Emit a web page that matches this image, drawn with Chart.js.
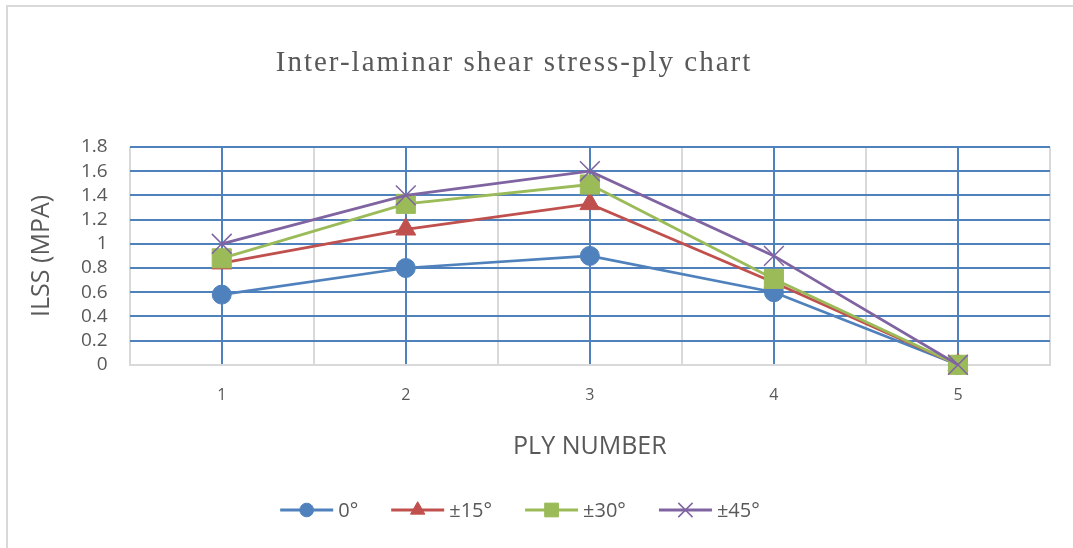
<!DOCTYPE html>
<html lang="en">
<head>
  <meta charset="UTF-8">
  <title>Inter-laminar shear stress-ply chart</title>
  <script src="https://cdn.jsdelivr.net/npm/chart.js"></script>
  <style>
    body { margin: 0; background: #fff; overflow: hidden; }
    .wrap { position: relative; width: 1073px; height: 548px; }
    .frame { position: absolute; left: 6px; top: 5px; width: 1200px; height: 700px;
             border-left: 2px solid #d9d9d9; border-top: 2px solid #d9d9d9; }
    canvas { position: absolute; left: 0; top: 0; }
  </style>
</head>
<body>
  <div class="wrap">
    <div class="frame"></div>
    <canvas id="grafica"></canvas>
  </div>

  <script>
    const plies = ["1", "2", "3", "4", "5"];
    const deg0  = [0.58, 0.80, 0.90, 0.60, 0];
    const deg15 = [0.84, 1.12, 1.33, 0.68, 0];
    const deg30 = [0.88, 1.33, 1.49, 0.71, 0];
    const deg45 = [1.00, 1.40, 1.60, 0.90, 0];
    const yTicks = [0, 0.2, 0.4, 0.6, 0.8, 1, 1.2, 1.4, 1.6, 1.8];

    const textGray = "#595959";
    const gridBlue = "#4f81bd";
    const lightGray = "#d9d9d9";
    const sans = "'Open Sans', 'Liberation Sans', sans-serif";

    // order: como en Excel, la ultima serie queda encima
    function serie(label, data, color, style, radius, bw, order) {
      return {
        label: label,
        data: data,
        order: order,
        clip: false,
        borderColor: color,
        backgroundColor: color,
        borderWidth: 2.75,
        pointStyle: style,
        pointRadius: radius,
        pointHoverRadius: radius,
        pointBorderWidth: bw,
        pointBackgroundColor: color,
        pointBorderColor: color,
        tension: 0
      };
    }

    const datasets = [
      serie("0°", deg0, "#4f81bd", "circle", 9.5, 1, 3),
      serie("±15°", deg15, "#c0504d", "triangle", 11.5, 1, 2),
      serie("±30°", deg30, "#9bbb59", "rect", 13.5, 1, 1),
      serie("±45°", deg45, "#8064a2", "crossRot", 14, 1.5, 0)
    ];

    // titulo con espaciado entre letras
    const tituloPlugin = {
      id: "titulo",
      afterDraw(chart) {
        const ctx = chart.ctx;
        ctx.save();
        ctx.font = "29px 'Liberation Serif', serif";
        ctx.letterSpacing = "2px";
        ctx.fillStyle = textGray;
        ctx.textAlign = "center";
        ctx.textBaseline = "middle";
        ctx.fillText("Inter-laminar shear stress-ply chart", 514, 63);
        ctx.restore();
      }
    };

    // leyenda: linea con marcador, como en Excel
    const leyendaPlugin = {
      id: "leyenda",
      afterDraw(chart) {
        const ctx = chart.ctx;
        const lineW = 53, gapText = 5, gapItem = 33, cy = 510;
        ctx.save();
        ctx.font = "20px " + sans;
        const items = chart.data.datasets.map(d => ({ d: d, w: ctx.measureText(d.label).width }));
        let total = 0;
        items.forEach((it, i) => { total += lineW + gapText + it.w + (i < items.length - 1 ? gapItem : 0); });
        let x = 520 - total / 2;
        items.forEach(it => {
          const d = it.d;
          ctx.strokeStyle = d.borderColor;
          ctx.lineWidth = 3;
          ctx.beginPath();
          ctx.moveTo(x, cy);
          ctx.lineTo(x + lineW, cy);
          ctx.stroke();
          ctx.fillStyle = d.borderColor;
          ctx.lineWidth = d.pointStyle === "crossRot" ? 1.5 : 1;
          Chart.helpers.drawPoint(ctx, {
            pointStyle: d.pointStyle,
            radius: d.pointRadius * 0.72,
            borderWidth: ctx.lineWidth,
            rotation: 0
          }, x + lineW / 2, cy);
          ctx.fillStyle = textGray;
          ctx.textAlign = "left";
          ctx.textBaseline = "middle";
          ctx.fillText(d.label, x + lineW + gapText, cy + 1);
          x += lineW + gapText + it.w + gapItem;
        });
        ctx.restore();
      }
    };

    new Chart(document.getElementById("grafica"), {
      type: "line",
      data: { labels: plies, datasets: datasets },
      options: {
        responsive: true,
        maintainAspectRatio: false,
        animation: false,
        layout: { padding: { left: 27, right: 23, top: 147, bottom: 86 } },
        plugins: {
          legend: { display: false },
          title: { display: false },
          tooltip: { enabled: false }
        },
        scales: {
          x: {
            type: "category",
            offset: true,
            grid: { color: gridBlue, lineWidth: 2, drawTicks: false },
            border: { display: true, color: lightGray, width: 2 },
            ticks: { color: textGray, font: { family: sans, size: 16 }, padding: 21 },
            title: {
              display: true, text: "PLY NUMBER", color: textGray,
              font: { family: sans, size: 25 }, padding: { top: 6, bottom: 0 }
            }
          },
          x2: {
            type: "category",
            position: "bottom",
            offset: true,
            grid: { offset: true, color: lightGray, lineWidth: 2, drawTicks: false },
            border: { display: false },
            ticks: { display: false }
          },
          y: {
            min: 0,
            max: 1.8,
            afterBuildTicks: axis => { axis.ticks = yTicks.map(v => ({ value: v })); },
            grid: {
              color: ctx => ctx.tick && ctx.tick.value === 0 ? lightGray : gridBlue,
              lineWidth: 2,
              drawTicks: false
            },
            border: { display: false },
            ticks: {
              color: textGray, font: { family: sans, size: 19 }, padding: 22, autoSkip: false,
              callback: v => String(Number(v.toFixed(1)))
            },
            title: {
              display: true, text: "ILSS (MPA)", color: textGray,
              font: { family: sans, size: 25 }, padding: { top: 0, bottom: 2 }
            }
          }
        }
      },
      plugins: [tituloPlugin, leyendaPlugin]
    });
  </script>
</body>
</html>
